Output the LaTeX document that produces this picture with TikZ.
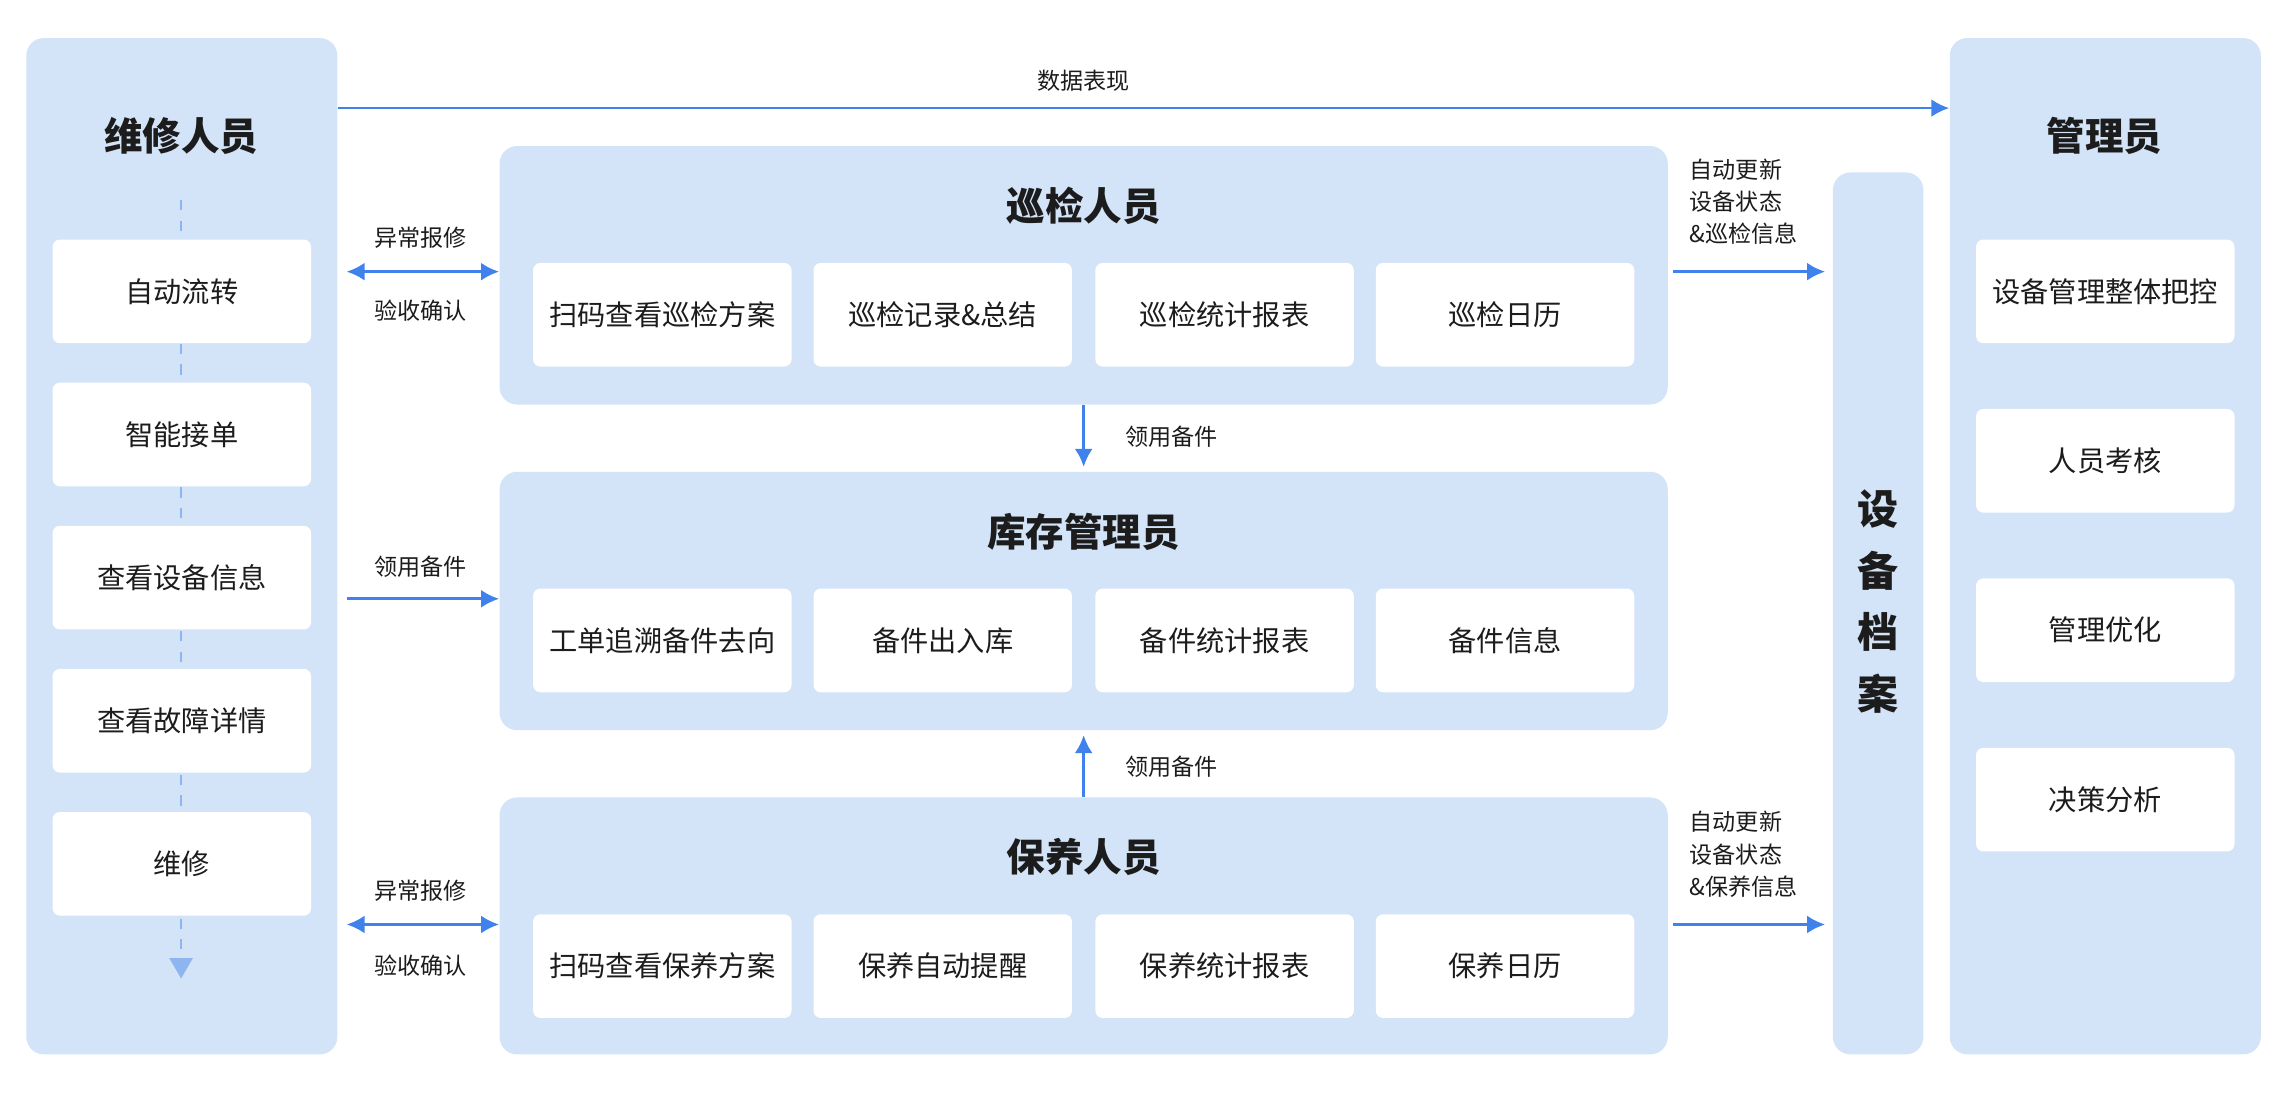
\documentclass[tikz,border=0pt]{standalone}
\usepackage{fontspec}
\setmainfont{Noto Sans CJK SC}
\usetikzlibrary{arrows.meta}
\definecolor{panel}{HTML}{D3E3F8}
\definecolor{arrblue}{HTML}{3F82EC}
\definecolor{dashblue}{HTML}{8DB6F1}
\definecolor{ink}{HTML}{1C1C1C}
\tikzset{
  panel/.style={fill=panel,rounded corners=0.24cm,inner sep=0pt},
  item/.style={fill=white,rounded corners=0.1cm,minimum width=3.54cm,minimum height=1.42cm,inner sep=0pt,text=ink,font=\fontsize{11}{12}\selectfont},
  title/.style={text=ink,font=\fontsize{15}{16}\bfseries\selectfont},
  lbl/.style={text=ink,font=\fontsize{9}{12.6}\selectfont,align=left},
  arr/.style={draw=arrblue,line width=1.1pt,-{Latex[length=7pt,width=7pt]}},
  darr/.style={draw=arrblue,line width=1.1pt,{Latex[length=7pt,width=7pt]}-{Latex[length=7pt,width=7pt]}}
}
\begin{document}
\begin{tikzpicture}[x=0.02cm,y=-0.02cm]
\useasboundingbox (0,0) rectangle (1568,748);
% side panels
\node[panel,minimum width=4.26cm,minimum height=13.92cm] (wx) at (124.5,374) {};
\node[panel,minimum width=4.26cm,minimum height=13.92cm] (gl) at (1441.5,374) {};
\node[panel,minimum width=1.24cm,minimum height=12.08cm] (da) at (1286,420) {};
\node[title] (wxt) at (124,93) {维修人员};
\node[title] (glt) at (1441,93) {管理员};
\node[title,align=center,font=\fontsize{16}{22}\bfseries\selectfont] (dat) at (1286,412) {设\\[2pt]备\\[2pt]档\\[2pt]案};
% middle panels
\node[panel,minimum width=16cm,minimum height=3.54cm] (xj) at (742,188.5) {};
\node[panel,minimum width=16cm,minimum height=3.54cm] (kc) at (742,411.5) {};
\node[panel,minimum width=16cm,minimum height=3.52cm] (by) at (742,634) {};
\node[title] (xjt) at (742,141) {巡检人员};
\node[title] (kct) at (742,364) {库存管理员};
\node[title] (byt) at (742,587) {保养人员};
% left items
\draw[dashblue,line width=1pt,dash pattern=on 4pt off 4pt,-{Triangle[length=8pt,width=9pt]}] (124,137) -- (124,670);
\node[item] (w1) at (124.5,199.5) {自动流转};
\node[item] (w2) at (124.5,297.5) {智能接单};
\node[item] (w3) at (124.5,395.5) {查看设备信息};
\node[item] (w4) at (124.5,493.5) {查看故障详情};
\node[item] (w5) at (124.5,591.5) {维修};
% right items
\node[item] (g1) at (1441.5,199.5) {设备管理整体把控};
\node[item] (g2) at (1441.5,315.5) {人员考核};
\node[item] (g3) at (1441.5,431.5) {管理优化};
\node[item] (g4) at (1441.5,547.5) {决策分析};
% middle items
\node[item] (x1) at (453.5,215.5) {扫码查看巡检方案};
\node[item] (x2) at (645.5,215.5) {巡检记录\&总结};
\node[item] (x3) at (838.5,215.5) {巡检统计报表};
\node[item] (x4) at (1030.5,215.5) {巡检日历};
\node[item] (k1) at (453.5,438.5) {工单追溯备件去向};
\node[item] (k2) at (645.5,438.5) {备件出入库};
\node[item] (k3) at (838.5,438.5) {备件统计报表};
\node[item] (k4) at (1030.5,438.5) {备件信息};
\node[item] (b1) at (453.5,661.5) {扫码查看保养方案};
\node[item] (b2) at (645.5,661.5) {保养自动提醒};
\node[item] (b3) at (838.5,661.5) {保养统计报表};
\node[item] (b4) at (1030.5,661.5) {保养日历};
% connectors
\draw[arr] (wx.east |- 0,74) -- (gl.west |- 0,74);
\node[lbl] (l0) at (742,55) {数据表现};
\draw[darr] ([xshift=0.12cm]wx.east |- 0,186) -- (xj.west |- 0,186);
\node[lbl] (l1) at (288,163) {异常报修};
\node[lbl] (l2) at (288,213) {验收确认};
\draw[arr] ([xshift=0.12cm]wx.east |- 0,410) -- (kc.west |- 0,410);
\node[lbl] (l3) at (288,388) {领用备件};
\draw[darr] ([xshift=0.12cm]wx.east |- 0,633) -- (by.west |- 0,633);
\node[lbl] (l4) at (288,610) {异常报修};
\node[lbl] (l5) at (288,661) {验收确认};
\draw[arr] (xj.south) -- ([yshift=0.06cm]kc.north);
\node[lbl] (l6) at (802,299) {领用备件};
\draw[arr] (by.north) -- ([yshift=-0.06cm]kc.south);
\node[lbl] (l7) at (802,525) {领用备件};
\draw[arr] ([xshift=0.06cm]xj.east |- 0,186) -- ([xshift=-0.1cm]da.west |- 0,186);
\node[lbl] (l8) at (1194,138) {自动更新\\设备状态\\\&巡检信息};
\draw[arr] ([xshift=0.06cm]by.east |- 0,633) -- ([xshift=-0.1cm]da.west |- 0,633);
\node[lbl] (l9) at (1194,585) {自动更新\\设备状态\\\&保养信息};
\end{tikzpicture}
\end{document}
